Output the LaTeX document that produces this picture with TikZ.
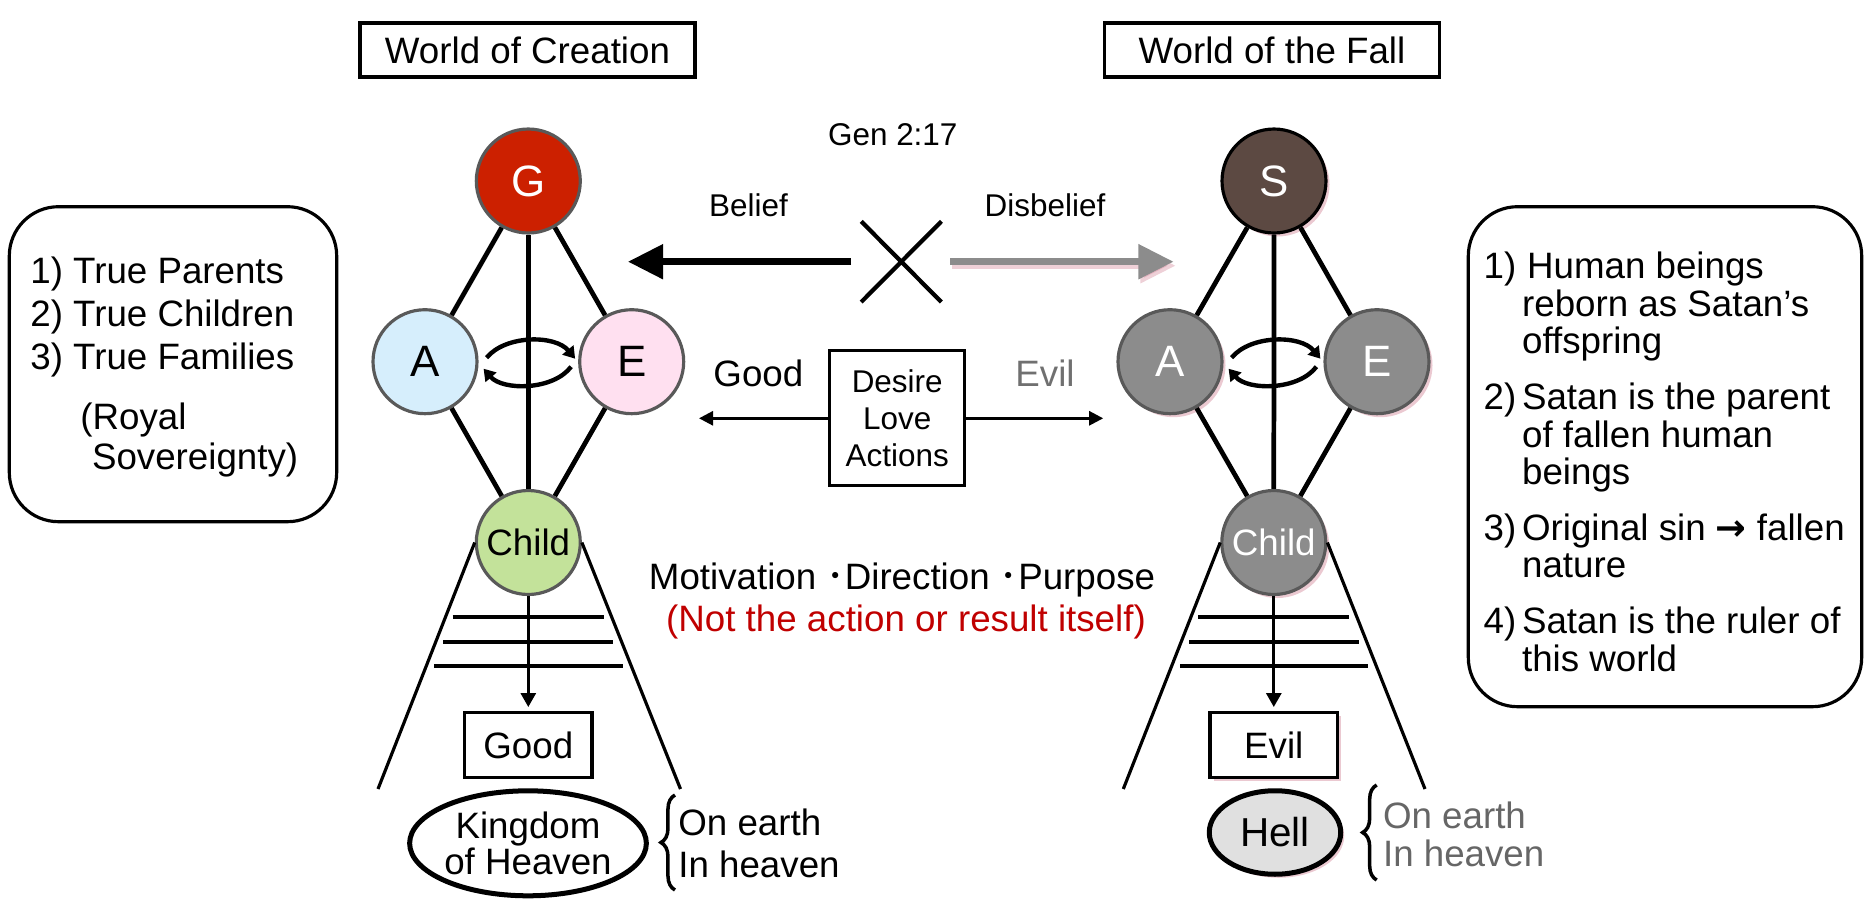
\documentclass[tikz,border=0pt]{standalone}
\usepackage{fontspec}
\setmainfont{Liberation Sans}
\newfontfamily\cjkfont{Noto Sans CJK JP}
\newfontfamily\arrfont{DejaVu Sans Bold}
\usetikzlibrary{arrows.meta,shapes.geometric,shapes.misc,calc,decorations.pathreplacing,shadows}
\newlength\pxu \setlength\pxu{0.02cm}
\newcommand\FntMain{\fontsize{20.9}{25}\selectfont}
\newcommand\FntSmall{\fontsize{17.9}{21}\selectfont}
\newcommand\FntBig{\fontsize{25}{30}\selectfont}
\definecolor{cborder}{RGB}{89,89,89}
\definecolor{gred}{RGB}{204,32,0}
\definecolor{ablue}{RGB}{214,238,252}
\definecolor{epink}{RGB}{255,224,240}
\definecolor{cgreen}{RGB}{195,226,154}
\definecolor{sbrown}{RGB}{92,73,66}
\definecolor{ggray}{RGB}{140,140,140}
\definecolor{evilgray}{RGB}{112,112,112}
\definecolor{pinksh}{RGB}{205,120,140}
\definecolor{hellfill}{RGB}{224,224,224}
\definecolor{redtxt}{RGB}{192,0,0}
\definecolor{rtxtgray}{RGB}{102,102,102}
\begin{document}
\begin{tikzpicture}[x=0.02cm, y=-0.02cm,
  every node/.style={font=\FntMain},
  circ/.style={circle, draw=cborder, line width=1.8pt, minimum size=2.08cm, inner sep=0pt, font=\FntBig},
  rshadow/.style={drop shadow={shadow xshift=2pt, shadow yshift=-2pt, fill=pinksh, opacity=0.4}},
  link/.style={line width=2.7pt},
  xch/.style={line width=2.5pt, -{Triangle[length=6.5pt,width=8pt]}},
  treeline/.style={line width=1.8pt},
  bar/.style={line width=2.3pt},
  darr/.style={line width=1.8pt, -{Triangle[length=8pt,width=8.5pt]}, shorten >=2pt},
  thinarr/.style={line width=1.5pt, -{Triangle[length=8pt,width=8pt]}},
  bigarr/.style={line width=4pt, -{Triangle[length=20pt,width=19pt]}},
  titlebox/.style={draw, line width=2.2pt, minimum width=6.7cm, minimum height=1.08cm, inner sep=0pt},
  resbox/.style={draw, line width=2.2pt, fill=white, minimum width=2.55cm, minimum height=1.3cm, inner sep=0pt},
  listbox/.style={line width=1.8pt, rounded corners=28pt},
  brc/.style={decorate, decoration={brace, amplitude=8pt}, line width=2pt}
]
\useasboundingbox (0,0) rectangle (1864,900);

% titles
\node[titlebox] (T1) at (527.5,50) {World of Creation};
\node[titlebox] (T2) at (1272,50) {World of the Fall};

% left list box
\draw[listbox] (9.3,206.7) rectangle (336.7,521.7);
\node[anchor=base west, inner sep=0pt, font=\fontsize{20.9}{24.65}\selectfont] (LL1) at (30,283.3)
 {\begin{tabular}[t]{@{}l@{}}1) True Parents\\2) True Children\\3) True Families\\[9.5pt]
 \hspace*{50\pxu}(Royal\\[-1.85pt]\hspace*{61.7\pxu}Sovereignty)\end{tabular}};

% right list box
\draw[listbox] (1468.3,206.7) rectangle (1861.7,706.7);
\node[anchor=base west, inner sep=0pt, font=\fontsize{20.9}{20.9}\selectfont] (RL1) at (1483.3,278.5)
 {\begin{tabular}[t]{@{}l@{\hspace{5.8\pxu}}l@{}}
 1) & \hspace*{5\pxu}Human beings\\
    & reborn as Satan’s\\
    & offspring\\[10.4pt]
 2) & Satan is the parent\\
    & of fallen human\\
    & beings\\[10.4pt]
 3) & Original sin {\arrfont →} fallen\\
    & nature\\[10.4pt]
 4) & Satan is the ruler of\\
    & this world
 \end{tabular}};

% ---------- left diagram ----------
\node[circ, fill=gred, text=white] (G) at (528.3,181) {G};
\node[circ, fill=ablue] (A) at (425,361.7) {A};
\node[circ, fill=epink] (E) at (631.7,361.7) {E};
\node[circ, fill=cgreen, font=\FntMain] (C) at (528.3,542.5) {Child};
\draw[link] (G) -- (A);
\draw[link] (G) -- (E);
\draw[link] (G) -- (C);
\draw[link] (A) -- (C);
\draw[link] (E) -- (C);
\draw[xch] ($(A.east)+(8,-4)$) .. controls ($(A.east)+(27,-27)$) and ($(E.west)+(-23,-27)$) .. ($(E.west)+(-3,-3)$);
\draw[xch] ($(E.west)+(-7,5)$) .. controls ($(E.west)+(-25,29)$) and ($(A.east)+(24,29)$) .. ($(A.east)+(5,7)$);

\coordinate (LLb) at (378,789);
\coordinate (LRb) at (680.5,789);
\draw[treeline] (C.west) -- (LLb);
\draw[treeline] (C.east) -- (LRb);
\draw[bar] (452.7,616.7) -- (604,616.7);
\draw[bar] (443.3,641.7) -- (613.3,641.7);
\draw[bar] (434,665.7) -- (623.3,665.7);
\node[resbox] (GB) at (528.3,745) {Good};
\draw[darr] (C) -- (GB);
\node[ellipse, draw, line width=2.85pt, minimum width=4.38cm, minimum height=2.1cm, inner sep=0pt,
      align=center, font=\fontsize{20.9}{18}\selectfont] (KH) at (528,843.3) {Kingdom\\of Heaven};
\draw[brc] (675,890) -- (675,795);
\node[anchor=base west, inner sep=0pt, font=\fontsize{20.9}{23.9}\selectfont] (LT) at (678,835)
 {\begin{tabular}[t]{@{}l@{}}On earth\\In heaven\end{tabular}};

% ---------- right diagram ----------
\node[circ, draw=black, fill=sbrown, text=white, rshadow] (S) at (1274,181) {S};
\node[circ, fill=ggray, text=white, rshadow] (A2) at (1170,361.7) {A};
\node[circ, fill=ggray, text=white, rshadow] (E2) at (1377,361.7) {E};
\node[circ, fill=ggray, text=white, rshadow, font=\FntMain] (C2) at (1273.8,542.5) {Child};
\draw[link] (S) -- (A2);
\draw[link] (S) -- (E2);
\draw[link] (S) -- (C2);
\draw[link] (A2) -- (C2);
\draw[link] (E2) -- (C2);
\draw[xch] ($(A2.east)+(8,-4)$) .. controls ($(A2.east)+(27,-27)$) and ($(E2.west)+(-23,-27)$) .. ($(E2.west)+(-3,-3)$);
\draw[xch] ($(E2.west)+(-7,5)$) .. controls ($(E2.west)+(-25,29)$) and ($(A2.east)+(24,29)$) .. ($(A2.east)+(5,7)$);

\coordinate (RLb) at (1123.3,789);
\coordinate (RRb) at (1425,789);
\draw[treeline] (C2.west) -- (RLb);
\draw[treeline] (C2.east) -- (RRb);
\draw[bar] (1198.3,616.7) -- (1349.3,616.7);
\draw[bar] (1189.3,641.7) -- (1359,641.7);
\draw[bar] (1180,665.7) -- (1368.3,665.7);
\node[resbox, rshadow] (EB) at (1273.8,745) {Evil};
\draw[darr] (C2) -- (EB);
\node[ellipse, draw, line width=2.85pt, fill=hellfill, rshadow, minimum width=2.63cm, minimum height=1.67cm,
      inner sep=0pt, font=\fontsize{23}{27}\selectfont] (HL) at (1275,832.5) {Hell};
\draw[brc] (1376.7,880) -- (1376.7,785);
\node[anchor=base west, inner sep=0pt, text=rtxtgray, font=\fontsize{20.9}{21.8}\selectfont] (RT) at (1382.7,828.3)
 {\begin{tabular}[t]{@{}l@{}}On earth\\In heaven\end{tabular}};

% ---------- middle ----------
\node[font=\FntSmall] (GEN) at (892.8,135) {Gen 2:17};
\node[font=\FntSmall] (BEL) at (748.5,205) {Belief};
\node[font=\FntSmall] (DIS) at (1045,205) {Disbelief};
\node[cross out, draw, line width=2.4pt, minimum width=1.52cm, minimum height=1.53cm, inner sep=0pt] (X) at (901.3,261.7) {};
\coordinate (BT) at (627.9,261.7);
\coordinate (DT) at (1173.6,261.7);
\draw[bigarr] ($(X.west)+(-10,0)$) -- (BT);
\draw[bigarr, draw=pinksh, opacity=0.35] ($(X.east)+(11,4)$) -- ($(DT)+(2,4)$);
\draw[bigarr, draw=ggray] ($(X.east)+(9,0)$) -- (DT);

\node[draw, line width=1.9pt, minimum size=2.7cm, inner sep=0pt, align=center,
      font=\fontsize{17.9}{21}\selectfont] (DLA) at (897.2,418.3) {Desire\\Love\\Actions};
\node (GOODL) at (758.4,373.3) {Good};
\node[text=evilgray] (EVILL) at (1045,373.3) {Evil};
\coordinate (GT) at (699,418.3);
\coordinate (ET) at (1103.2,418.3);
\draw[thinarr] (DLA) -- (GT);
\draw[thinarr] (DLA) -- (ET);

\node (MOT) at (902,580) {Motivation {\cjkfont ･}Direction {\cjkfont ･}Purpose};
\node[text=redtxt] (NOT) at (906,622) {(Not the action or result itself)};
\end{tikzpicture}
\end{document}
